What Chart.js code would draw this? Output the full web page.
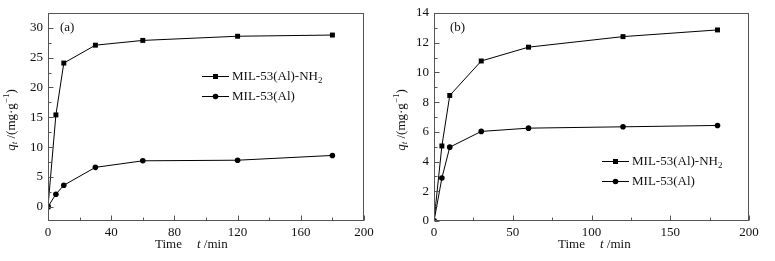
<!DOCTYPE html>
<html>
<head>
<meta charset="utf-8">
<script src="https://cdn.jsdelivr.net/npm/chart.js@4/dist/chart.umd.min.js"></script>
<style>
  html, body { margin: 0; padding: 0; background: #fff; }
  #wrap { position: relative; width: 775px; height: 261px; }
  canvas { position: absolute; top: 0; }
  #chart-a { left: 0; }
  #chart-b { left: 390px; }
</style>
</head>
<body>
<div id="wrap">
  <canvas id="chart-a" width="390" height="261"></canvas>
  <canvas id="chart-b" width="385" height="261"></canvas>
</div>
<script>
// adsorption time points (min)
const times = [0, 5, 10, 30, 60, 120, 180];

// panel (a)
const nh2A = [0, 15.4, 24.1, 27.1, 27.9, 28.6, 28.8];
const alA = [0, 2.1, 3.6, 6.6, 7.7, 7.8, 8.6];
const yTicksA = [0, 5, 10, 15, 20, 25, 30];
const xTicksA = [0, 40, 80, 120, 160, 200];

// panel (b)
const nh2B = [0, 5.05, 8.45, 10.77, 11.7, 12.41, 12.86];
const alB = [0, 2.89, 4.97, 6.03, 6.25, 6.34, 6.43];
const yTicksB = [0, 2, 4, 6, 8, 10, 12, 14];
const xTicksB = [0, 50, 100, 150, 200];

const seriesNames = ['MIL-53(Al)-NH', 'MIL-53(Al)'];
const panelLabels = ['(a)', '(b)'];

const SERIF = '"Liberation Serif", "Times New Roman", serif';
const FRAME = '#555';
const INK = '#000';

// inward ticks + box frame + axis titles + legend + panel tag
const decor = {
  id: 'decor',
  afterDraw(chart) {
    const o = chart.options.plugins.decor;
    const ctx = chart.ctx;
    const a = chart.chartArea;
    const xs = chart.scales.x, ys = chart.scales.y;
    const L = Math.round(a.left) + 0.5, R = Math.round(a.right) - 0.5;
    const T = Math.round(a.top) + 0.5, B = Math.round(a.bottom) - 0.5;
    ctx.save();
    ctx.strokeStyle = FRAME;
    ctx.lineWidth = 1;
    ctx.strokeRect(L, T, R - L, B - T);

    // x ticks
    ctx.beginPath();
    const xt = xs.ticks.map(t => t.value);
    xt.forEach((v, i) => {
      const px = Math.round(xs.getPixelForValue(v)) + 0.5;
      ctx.moveTo(px, B); ctx.lineTo(px, B - 5);
      if (i < xt.length - 1) {
        const m = Math.round(xs.getPixelForValue((v + xt[i + 1]) / 2)) + 0.5;
        ctx.moveTo(m, B); ctx.lineTo(m, B - 3);
      }
    });
    // y ticks
    const yt = ys.ticks.map(t => t.value);
    yt.forEach((v, i) => {
      const py = Math.round(ys.getPixelForValue(v)) + 0.5;
      ctx.moveTo(L, py); ctx.lineTo(L + 5, py);
      if (i < yt.length - 1) {
        const m = Math.round(ys.getPixelForValue((v + yt[i + 1]) / 2)) + 0.5;
        ctx.moveTo(L, m); ctx.lineTo(L + 3, m);
      }
    });
    ctx.stroke();

    ctx.fillStyle = '#111';
    ctx.textBaseline = 'middle';

    // panel tag
    ctx.font = '13px ' + SERIF;
    ctx.textAlign = 'left';
    ctx.fillText(o.tag, o.tagX, o.tagY);

    // x title: Time   t /min
    ctx.fillText('Time', o.xTitleX, o.xTitleY);
    ctx.font = 'italic 13px ' + SERIF;
    ctx.fillText('t', o.xTitleX + 42, o.xTitleY);
    const tw = ctx.measureText('t').width;
    ctx.font = '13px ' + SERIF;
    ctx.fillText(' /min', o.xTitleX + 42 + tw, o.xTitleY);

    // y title: q_t /(mg·g^-1), rotated
    const parts = [
      { s: 'q', f: 'italic 13px ', dy: 0 },
      { s: 't', f: 'italic 9px ', dy: 3 },
      { s: ' /(mg\u00b7g', f: '13px ', dy: 0 },
      { s: '\u22121', f: '9px ', dy: -5 },
      { s: ')', f: '13px ', dy: 0 }
    ];
    let total = 0;
    parts.forEach(p => { ctx.font = p.f + SERIF; p.w = ctx.measureText(p.s).width; total += p.w; });
    ctx.translate(o.yTitleX, (a.top + a.bottom) / 2 + 3);
    ctx.rotate(-Math.PI / 2);
    let cx = -total / 2;
    parts.forEach(p => {
      ctx.font = p.f + SERIF;
      ctx.fillText(p.s, cx, p.dy);
      cx += p.w;
    });
    ctx.setTransform(1, 0, 0, 1, 0, 0);

    // legend
    chart.data.datasets.forEach((ds, i) => {
      const y = Math.round(o.legY + i * o.legGap) + 0.5;
      ctx.strokeStyle = INK;
      ctx.beginPath();
      ctx.moveTo(o.legX, y); ctx.lineTo(o.legX + 27, y);
      ctx.stroke();
      ctx.fillStyle = INK;
      const mx = o.legX + 13.5;
      if (ds.pointStyle === 'rect') {
        ctx.fillRect(mx - 2.5, y - 2.5, 5, 5);
      } else {
        ctx.beginPath(); ctx.arc(mx, y, 2.8, 0, Math.PI * 2); ctx.fill();
      }
      ctx.fillStyle = '#111';
      ctx.font = '13px ' + SERIF;
      ctx.fillText(ds.label, o.legX + 30, y);
      if (i === 0) {
        const w = ctx.measureText(ds.label).width;
        ctx.font = '9px ' + SERIF;
        ctx.fillText('2', o.legX + 30 + w, y + 4);
      }
    });
    ctx.restore();
  }
};

function makeChart(id, cfg) {
  return new Chart(document.getElementById(id), {
    type: 'line',
    data: {
      datasets: [
        {
          label: seriesNames[0],
          data: times.map((t, i) => ({ x: t, y: cfg.nh2[i] })),
          borderColor: INK, backgroundColor: INK, borderWidth: 1,
          pointStyle: 'rect', pointRadius: 3.5, pointBorderWidth: 0, tension: 0
        },
        {
          label: seriesNames[1],
          data: times.map((t, i) => ({ x: t, y: cfg.al[i] })),
          borderColor: INK, backgroundColor: INK, borderWidth: 1,
          pointStyle: 'circle', pointRadius: 2.8, pointBorderWidth: 0, tension: 0
        }
      ]
    },
    options: {
      responsive: false,
      animation: false,
      layout: { padding: { top: 13, right: 26, left: 0, bottom: 0 } },
      plugins: {
        legend: { display: false },
        tooltip: { enabled: false },
        decor: cfg.decor
      },
      scales: {
        x: {
          type: 'linear', min: 0, max: 200,
          grid: { display: false, drawTicks: false },
          border: { display: false },
          ticks: { padding: 4, color: '#111', font: { family: SERIF, size: 13 }, maxRotation: 0 },
          afterBuildTicks: s => { s.ticks = cfg.xTicks.map(v => ({ value: v })); },
          afterFit: s => { s.height = 40; }
        },
        y: {
          min: cfg.yMin, max: cfg.yMax,
          grid: { display: false, drawTicks: false },
          border: { display: false },
          ticks: { padding: 5, color: '#111', font: { family: SERIF, size: 13 } },
          afterBuildTicks: s => { s.ticks = cfg.yTicks.map(v => ({ value: v })); },
          afterFit: s => { s.width = cfg.yWidth; }
        }
      }
    },
    plugins: [decor]
  });
}

makeChart('chart-a', {
  nh2: nh2A, al: alA, xTicks: xTicksA, yTicks: yTicksA, yMin: -2.4, yMax: 32.5, yWidth: 48,
  decor: { tag: panelLabels[0], tagX: 60, tagY: 28, xTitleX: 155, xTitleY: 245, yTitleX: 12,
           legX: 202, legY: 76, legGap: 20 }
});

makeChart('chart-b', {
  nh2: nh2B, al: alB, xTicks: xTicksB, yTicks: yTicksB, yMin: 0, yMax: 14, yWidth: 44,
  decor: { tag: panelLabels[1], tagX: 60, tagY: 28, xTitleX: 168, xTitleY: 245, yTitleX: 12,
           legX: 212, legY: 161, legGap: 20 }
});
</script>
</body>
</html>
